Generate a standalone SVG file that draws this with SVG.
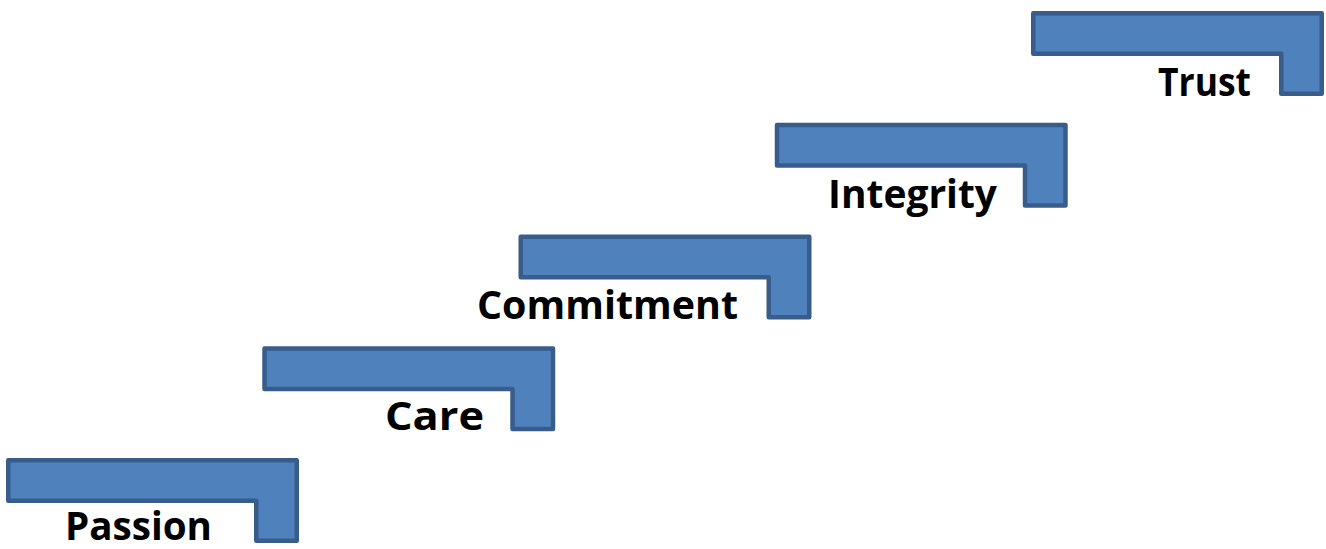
<svg xmlns="http://www.w3.org/2000/svg" width="1326" height="549" viewBox="0 0 1326 549">
<defs>
<style>
.step{fill:#4F81BD;stroke:#385D8A;stroke-width:4.5;stroke-linejoin:round}
.lbl{font-family:"Open Sans","Liberation Sans",sans-serif;font-weight:bold;font-size:39px;fill:#000}
</style>
<path id="stepShape" class="step" d="M2.25,2.25 H290.75 V82.75 H250.25 V42.75 H2.25 Z"/>
</defs>
<g id="connectors"></g>
<g id="step-passion">
<use href="#stepShape" transform="translate(6,458)"/>
<text class="lbl" x="65" y="540" textLength="147" lengthAdjust="spacingAndGlyphs">Passion</text>
</g>
<g id="step-care">
<use href="#stepShape" transform="translate(262.25,346.25)"/>
<text class="lbl" x="385" y="430" textLength="99" lengthAdjust="spacingAndGlyphs">Care</text>
</g>
<g id="step-commitment">
<use href="#stepShape" transform="translate(518.5,234.5)"/>
<text class="lbl" x="477" y="319" textLength="261" lengthAdjust="spacingAndGlyphs">Commitment</text>
</g>
<g id="step-integrity">
<use href="#stepShape" transform="translate(774.75,122.75)"/>
<text class="lbl" x="828" y="208" textLength="169" lengthAdjust="spacingAndGlyphs">Integrity</text>
</g>
<g id="step-trust">
<use href="#stepShape" transform="translate(1031,11)"/>
<text class="lbl" x="1158" y="96" textLength="93" lengthAdjust="spacingAndGlyphs">Trust</text>
</g>
</svg>
